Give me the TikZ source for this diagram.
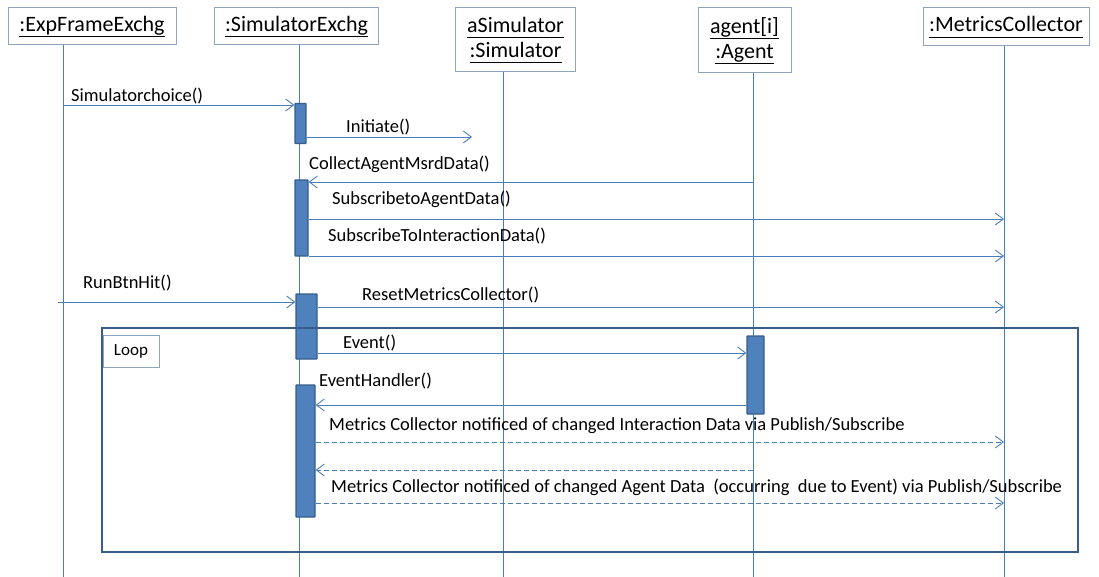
\documentclass[tikz,border=0pt]{standalone}
\usepackage{fontspec}
\setmainfont{Carlito}
\usepackage{xcolor}
\usetikzlibrary{arrows.meta}
\definecolor{lineblue}{HTML}{4A7EBB}
\definecolor{barblue}{HTML}{4F81BD}
\definecolor{bardark}{HTML}{385D8A}
\definecolor{headgray}{HTML}{8FA3BF}
\newcommand{\objname}[1]{\underline{#1\vphantom{g}}}

\begin{document}
\begin{tikzpicture}[x=1pt, y=-1pt,
  head/.style={draw=headgray, line width=1pt, fill=white, inner sep=0pt, align=center, font=\fontsize{22}{25}\selectfont},
  life/.style={draw=lineblue, line width=0.9pt},
  bar/.style={draw=bardark, fill=barblue, line width=1.3pt, inner sep=0pt, rounded corners=0.6pt},
  msg/.style={draw=lineblue, line width=0.9pt, -{Straight Barb[length=8pt,width=12pt]}},
  reply/.style={msg, dash pattern=on 5pt off 3pt},
  lbl/.style={anchor=west, inner sep=0pt, font=\fontsize{18.5}{21}\selectfont},
  frame/.style={draw=bardark, line width=2.6pt, inner sep=0pt}]
  \useasboundingbox (0,0) rectangle (1099,577);

  \node[head, minimum width=168, minimum height=37] (exp) at (92,26.5) {\objname{:ExpFrameExchg}};
  \node[head, minimum width=164, minimum height=37] (simx) at (296.5,26.5) {\objname{:SimulatorExchg}};
  \node[head, minimum width=120, minimum height=64] (asim) at (515.5,40) {\objname{aSimulator}\\\objname{:Simulator}};
  \node[head, minimum width=93, minimum height=65] (agent) at (744.5,40.5) {\objname{agent[i]}\\\objname{:Agent}};
  \node[head, minimum width=166, minimum height=38] (metc) at (1006,27) {\objname{:MetricsCollector}};

  \foreach \n/\x/\y in {exp/63/45, simx/299/45, asim/503/72, agent/753/73, metc/1004/46}
    \draw[life] (\x,\y) coordinate (\n-l) -- (\x,577);

  \foreach \r/\y in {1/105, 2/137, 3/182, 4/219, 5/256, 6/302, 7/307, 8/353, 9/405, 10/442, 11/470, 12/503}
    \coordinate (r\r) at (0,\y);

  \node[bar, minimum width=11, minimum height=40] (a1) at (300.5,123.5) {};
  \node[bar, minimum width=13, minimum height=76] (a2) at (301.5,218) {};
  \node[bar, minimum width=21, minimum height=65] (a3) at (306.5,326.5) {};
  \node[bar, minimum width=19, minimum height=132] (a4) at (305.5,451) {};
  \node[bar, minimum width=17, minimum height=78] (ag) at (755.5,375) {};

  \node[frame, minimum width=976, minimum height=224] (loop) at (590,440) {};
  \node[head, minimum width=56, minimum height=32, font=\fontsize{17}{20}\selectfont] (looptag) at (131,351) {Loop};

  \coordinate (init-e) at (472,137);
  \coordinate (run-s) at (58,302);

  \draw[msg] (exp-l |- r1) -- (a1.west |- r1);
  \draw[msg] (a1.east |- r2) -- (init-e);
  \draw[msg] (agent-l |- r3) -- (a2.east |- r3);
  \draw[msg] (a2.east |- r4) -- (metc-l |- r4);
  \draw[msg] (a2.east |- r5) -- (metc-l |- r5);
  \draw[msg] (run-s) -- (a3.west |- r6);
  \draw[msg] (a3.east |- r7) -- (metc-l |- r7);
  \draw[msg] (a3.east |- r8) -- (ag.west |- r8);
  \draw[msg] (ag.west |- r9) -- (a4.east |- r9);
  \draw[reply] (a4.east |- r10) -- (metc-l |- r10);
  \draw[reply] (agent-l |- r11) -- (a4.east |- r11);
  \draw[reply] (a4.east |- r12) -- (metc-l |- r12);

  \node[lbl] (m1) at (71,96) {Simulatorchoice()};
  \node[lbl] (m2) at (346,127) {Initiate()};
  \node[lbl] (m3) at (309,164) {CollectAgentMsrdData()};
  \node[lbl] (m4) at (332,199) {SubscribetoAgentData()};
  \node[lbl] (m5) at (328,236) {SubscribeToInteractionData()};
  \node[lbl] (m6) at (83,283) {RunBtnHit()};
  \node[lbl] (m7) at (362,295) {ResetMetricsCollector()};
  \node[lbl] (m8) at (343,343) {Event()};
  \node[lbl] (m9) at (319,381) {EventHandler()};
  \node[lbl] (m10) at (329,426) {Metrics Collector notificed of changed Interaction Data via Publish/Subscribe};
  \node[lbl] (m12) at (331,487) {Metrics Collector notificed of changed Agent Data\ \ (occurring\ \ due to Event) via Publish/Subscribe};
\end{tikzpicture}
\end{document}
